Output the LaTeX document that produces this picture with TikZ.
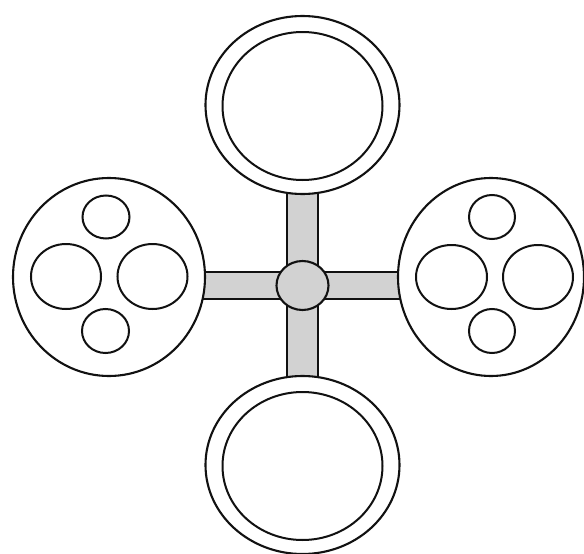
\documentclass[tikz,border=0pt]{standalone}
\usepackage{tikz}
\usetikzlibrary{shapes.geometric, calc, backgrounds}
\definecolor{ink}{HTML}{111111}
\definecolor{stipple}{HTML}{D2D2D2}

\begin{document}
\begin{tikzpicture}[
  x=1pt, y=-1pt,
  rim/.style={ellipse, draw=ink, line width=2.1pt, inner sep=0pt, fill=white},
  hole/.style={ellipse, draw=ink, line width=2pt, inner sep=0pt},
  bar/.style={draw=ink, fill=stipple, line width=2.1pt}
]
  \useasboundingbox (0,0) rectangle (584,554);
  \node[rim, minimum width=194pt, minimum height=178pt] (topOuter) at (302.5,105) {};
  \node[hole, minimum width=160pt, minimum height=148pt] (topInner) at (302.5,106) {};
  \node[rim, minimum width=194pt, minimum height=178pt] (botOuter) at (302.5,465) {};
  \node[hole, minimum width=160pt, minimum height=148pt] (botInner) at (302.5,466) {};
  \node[rim, minimum width=192pt, minimum height=198pt] (leftDisk) at (109,277) {};
  \node[rim, minimum width=186pt, minimum height=198pt] (rightDisk) at (491,277) {};
  \node[hole, minimum width=47pt, minimum height=43pt] (lTop) at (106,217) {};
  \node[hole, minimum width=70pt, minimum height=65pt] (lLeft) at (66,276.5) {};
  \node[hole, minimum width=70pt, minimum height=65pt] (lRight) at (152.5,276.5) {};
  \node[hole, minimum width=47pt, minimum height=44pt] (lBot) at (105.5,331) {};
  \node[hole, minimum width=46pt, minimum height=44pt] (rTop) at (492,217) {};
  \node[hole, minimum width=71pt, minimum height=64pt] (rLeft) at (451.5,277) {};
  \node[hole, minimum width=70pt, minimum height=64pt] (rRight) at (538,277) {};
  \node[hole, minimum width=46pt, minimum height=44pt] (rBot) at (492,331) {};
  \node[ellipse, draw=ink, fill=stipple, line width=2.1pt, inner sep=0pt,
    minimum width=52pt, minimum height=49pt] (hub) at (302.5,285.5) {};
  \begin{scope}[on background layer]
    \draw[bar] ($(topOuter.center -| hub.center)+(-15.5,0)$) rectangle ($(botOuter.center -| hub.center)+(15.5,0)$);
    \draw[bar] ($(leftDisk.center |- hub.center)+(0,-13.5)$) rectangle ($(rightDisk.center |- hub.center)+(0,13.5)$);
  \end{scope}
\end{tikzpicture}
\end{document}
